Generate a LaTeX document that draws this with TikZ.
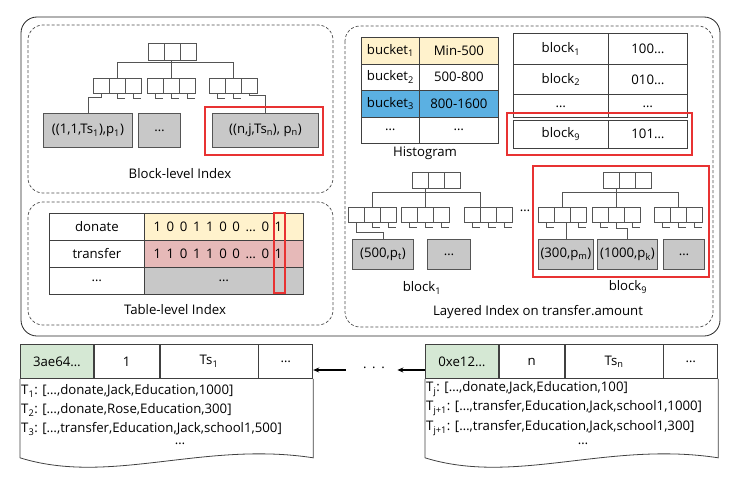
\documentclass[tikz,border=0pt]{standalone}
\usepackage{fontspec}
\setmainfont{Open Sans}
\usetikzlibrary{positioning,arrows.meta}
\definecolor{yellowc}{RGB}{255,242,204}
\definecolor{pinkc}{RGB}{230,185,184}
\definecolor{cellgray}{RGB}{200,200,200}
\definecolor{bluec}{RGB}{91,176,226}
\definecolor{greenc}{RGB}{213,232,212}
\definecolor{hlred}{RGB}{232,50,50}
\definecolor{linegray}{RGB}{85,85,85}
\newcommand\bitspace{\spaceskip=5.6pt\relax}
\tikzset{
  cell/.style={draw=linegray, line width=0.8pt, minimum width=16pt, inner sep=0pt, anchor=north west},
  tline/.style={draw=linegray, line width=0.8pt},
  leaf/.style={draw=linegray, fill=cellgray, line width=0.9pt, inner sep=0pt, anchor=north west},
  tcell/.style={draw=black!75, line width=0.8pt, inner sep=0pt, anchor=north west},
  hl/.style={draw=hlred, line width=1.1pt},
  panel/.style={draw=black!70, dash pattern=on 3pt off 2pt, line width=0.7pt, rounded corners=15pt},
  txline/.style={anchor=west, inner sep=1pt},
  bitrow/.style={anchor=east, font=\fontsize{13.2}{15}\selectfont\bitspace},
  arr/.style={-{Stealth[length=6pt,width=5pt]}, line width=1.3pt}
}
\begin{document}
\begin{tikzpicture}[x=1pt, y=-1pt, every node/.style={font=\fontsize{13.2}{15}\selectfont}]
\useasboundingbox (0,0) rectangle (738,479);
\draw[line width=0.8pt, draw=black!85, rounded corners=16pt] (21,17) rectangle (720,336);
\draw[panel] (28,25) rectangle (333,193);
\draw[panel] (28,202) rectangle (333,325);
\draw[panel] (345,26) rectangle (713,327);

\foreach \nm/\x/\y/\h in {br/148/43/17pt, ba/93/78/15pt, bb/147/78/15pt, bc/209/78/15pt, kr/412/172/16pt, ka/348/207/15pt, kb/401/207/15pt, kc/464/207/15pt, nr/603/172/16pt, na/538/207/15pt, nb/592/207/15pt, nc/654/207/15pt}
  \foreach \i in {1,2,3}
    \node[cell, minimum height=\h] (\nm\i) at (\x+16*\i-16,\y) {};
\foreach \c in {ba2,ba3,bb1,bb2,bb3,bc1,bc2,ka2,ka3,kb1,kb2,kb3,kc1,kc2,kc3,na1,na3,nb1,nb3,nc1,nc2,nc3}
  \draw[tline] (\c.south) -- ++(0,5) -- ++(8,0);
\draw[tline] (ba2.north) -- ++(0,-16) -| (bc2.north);
\draw[tline] (bb2.north) -- (bb2.north |- br2.south);
\draw[tline] (ka2.north) -- ++(0,-15) -| (kc1.north east);
\draw[tline] (kb2.north) -- (kb2.north |- kr2.south);
\draw[tline] (na2.north) -- ++(0,-15) -| (nc2.north);
\draw[tline] (nb2.north) -- (nb2.north |- nr2.south);

\node[leaf, minimum width=89pt, minimum height=34pt] (bl1) at (43,113) {((1,1,Ts\textsubscript{1}),p\textsubscript{1})};
\node[leaf, minimum width=42pt, minimum height=34pt] (bl2) at (138,113) {…};
\node[leaf, minimum width=106pt, minimum height=34pt] (bl3) at (212,113) {((n,j,Ts\textsubscript{n}), p\textsubscript{n})};
\draw[tline] (ba1.south) -- ++(0,4) -| (bl1.north);
\draw[tline] (bc3.south) -- ++(0,2) -| (bl3.north);
\draw[hl] (205,107) rectangle (323,155);
\node (blk) at (180,174) {Block-level Index};

\foreach \r/\y/\name/\col/\txt in {1/213/donate/yellowc/, 2/240/transfer/pinkc/, 3/267/…/cellgray/…}{
  \node[tcell, minimum width=95pt, minimum height=27pt] (ta\r) at (49,\y) {\name};
  \node[tcell, fill=\col, minimum width=159pt, minimum height=27pt] (tb\r) at (144,\y) {\txt};
}
\node[bitrow] (bits1) at ([xshift=-18pt]tb1.east) {1 0 0 1 1 0 0 … 0 1};
\node[bitrow] (bits2) at ([xshift=-18pt]tb2.east) {1 1 0 1 1 0 0 … 0 1};
\draw[hl] (274,213) rectangle (285,293);
\node (tbl) at (175,310) {Table-level Index};

\foreach \r/\y/\a/\b/\col in {1/37/bucket\textsubscript{1}/Min-500/yellowc, 2/63.5/bucket\textsubscript{2}/500-800/white, 3/90/bucket\textsubscript{3}/800-1600/bluec, 4/116.5/…/…/white}{
  \node[tcell, fill=\col, minimum width=58pt, minimum height=26.5pt] (ha\r) at (361,\y) {\a};
  \node[tcell, fill=\col, minimum width=79pt, minimum height=26.5pt] (hb\r) at (419,\y) {\b};
}
\node (hist) at (425,153) {Histogram};

\foreach \r/\y/\h/\a/\b in {1/33/31pt/block\textsubscript{1}/100…, 2/64/30pt/block\textsubscript{2}/010…, 3/94/23pt/\raisebox{-4pt}{…}/\raisebox{-4pt}{…}, 4/119.5/28.5pt/block\textsubscript{9}/101…}{
  \node[tcell, minimum width=95pt, minimum height=\h] (ma\r) at (513,\y) {\a};
  \node[tcell, minimum width=79pt, minimum height=\h] (mb\r) at (608,\y) {\b};
}
\draw[hl] (507,113) rectangle (692,155);

\node[leaf, minimum width=61pt, minimum height=30pt] (kl1) at (352,239) {(500,p\textsubscript{t})};
\node[leaf, minimum width=43pt, minimum height=30pt] (kl2) at (427,239) {…};
\node[leaf, minimum width=55pt, minimum height=30pt] (nl1) at (538,239) {(300,p\textsubscript{m})};
\node[leaf, minimum width=60pt, minimum height=30pt] (nl2) at (597,239) {(1000,p\textsubscript{k})};
\node[leaf, minimum width=41pt, minimum height=30pt] (nl3) at (663,239) {…};
\draw[tline] (ka1.south) -- ++(0,10) -| (kl1.north);
\draw[tline] (nl1.north) -- (nl1.north |- na2.south);
\draw[tline] (nb2.south) -- ++(0,6) -| (nl2.north);
\node (gap) at (525,211) {…};
\draw[hl] (533,166) rectangle (709,277);
\node (b1lab) at (422,288) {block\textsubscript{1}};
\node (b9lab) at (628,287) {block\textsubscript{9}};
\node (lay) at (538,312) {Layered Index on transfer.amount};

\foreach \s/\x/\a/\b/\c in {L/20/3ae64…/1/Ts\textsubscript{1}, R/425/0xe12…/n/Ts\textsubscript{n}}{
  \node[tcell, fill=greenc, minimum width=73pt, minimum height=34pt] (\s1) at (\x,344) {\a};
  \node[tcell, minimum width=65pt, minimum height=34pt, right=0pt of \s1] (\s2) {\b};
  \node[tcell, minimum width=98pt, minimum height=34pt, right=0pt of \s2] (\s3) {\c};
  \node[tcell, minimum width=54pt, minimum height=34pt, right=0pt of \s3] (\s4) {…};
  \draw[tcell] (\s1.south west) -- ++(0,79) .. controls +(90,28) and +(-110,-17) .. ([yshift=-79pt]\s4.south east) -- (\s4.south east);
}
\node[txline] (lt1) at (20,391) {T\textsubscript{1}: […,donate,Jack,Education,1000]};
\node[txline] (lt2) at (20,410) {T\textsubscript{2}: […,donate,Rose,Education,300]};
\node[txline] (lt3) at (20,429) {T\textsubscript{3}: […,transfer,Education,Jack,school1,500]};
\node[inner sep=1pt] (lt4) at (180,444) {…};
\node[txline] (rt1) at (425,389) {T\textsubscript{j}: […,donate,Jack,Education,100]};
\node[txline] (rt2) at (425,408) {T\textsubscript{j+1}: […,transfer,Education,Jack,school1,1000]};
\node[txline] (rt3) at (425,428) {T\textsubscript{j+1}: […,transfer,Education,Jack,school1,300]};
\node[inner sep=1pt] (rt4) at (583,444) {…};

\node[font=\fontsize{13.2}{15}\selectfont\bitspace] (dots) at (374,370) {· · ·};
\draw[arr] ([xshift=-14pt]dots.west) -- (dots -| L4.east);
\draw[arr] (dots -| R1.west) -- ([xshift=9pt]dots.east);
\end{tikzpicture}
\end{document}
